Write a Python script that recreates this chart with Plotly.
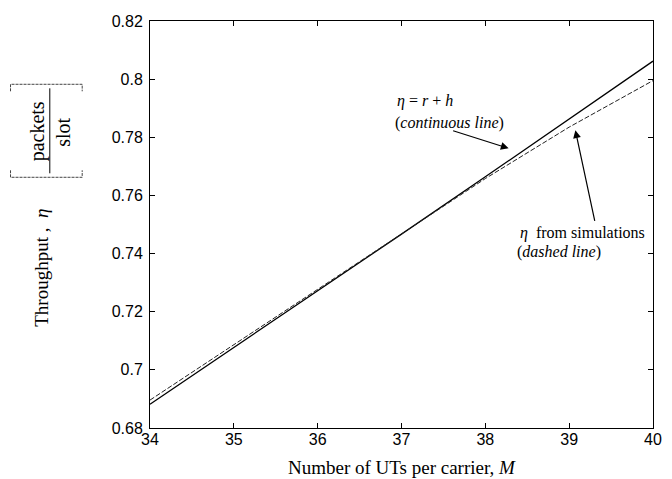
import plotly.graph_objects as go

# ---- data ----
M = [34, 35, 36, 37, 38, 39, 40]
eta_analytic = [0.6882, 0.7076, 0.7271, 0.7467, 0.7664, 0.7862, 0.8062]   # eta = r + h (continuous)
eta_sim = [0.6896, 0.7087, 0.7277, 0.7468, 0.7658, 0.7835, 0.7995]        # simulations (dashed)

x_ticks = [34, 35, 36, 37, 38, 39, 40]
y_ticks = [0.68, 0.70, 0.72, 0.74, 0.76, 0.78, 0.80, 0.82]
y_ticklabels = ["0.68", "0.7", "0.72", "0.74", "0.76", "0.78", "0.8", "0.82"]

SERIF = "Liberation Serif, Times New Roman, serif"
SANS = "Liberation Sans, Arial, sans-serif"

fig = go.Figure()
fig.add_trace(go.Scatter(x=M, y=eta_analytic, mode="lines",
                         line=dict(color="black", width=1.3), showlegend=False))
fig.add_trace(go.Scatter(x=M, y=eta_sim, mode="lines",
                         line=dict(color="#222", width=1, dash="5px,2px"), showlegend=False))

axis_common = dict(showgrid=False, zeroline=False, showline=True, linecolor="black",
                   linewidth=1, mirror="ticks", ticks="inside", ticklen=5,
                   tickcolor="black", tickfont=dict(family=SANS, size=16, color="black"))

fig.update_xaxes(range=[34, 40], tickvals=x_ticks, ticklabelstandoff=-3, **axis_common)
fig.update_yaxes(range=[0.68, 0.82], tickvals=y_ticks, ticktext=y_ticklabels,
                 ticklabelstandoff=3, **axis_common)

annotations = [
    # x-axis title
    dict(text="Number of UTs per carrier, <i>M</i>", xref="paper", yref="paper",
         x=0.5, y=-0.097, xanchor="center", yanchor="middle", showarrow=False,
         font=dict(family=SERIF, size=19, color="black")),
    # y-axis title
    dict(text="Throughput ,  <i>η</i>", xref="paper", yref="paper",
         x=-0.2148, y=0.3936, xanchor="center", yanchor="middle", textangle=-90,
         showarrow=False, font=dict(family=SERIF, size=19, color="black")),
    dict(text="packets", xref="paper", yref="paper", x=-0.2246, y=0.729,
         xanchor="center", yanchor="middle", textangle=-90, showarrow=False,
         font=dict(family=SERIF, size=20, color="black")),
    dict(text="slot", xref="paper", yref="paper", x=-0.1719, y=0.7265,
         xanchor="center", yanchor="middle", textangle=-90, showarrow=False,
         font=dict(family=SERIF, size=20, color="black")),
    # curve labels
    dict(text="<i>η</i> = <i>r</i> + <i>h</i>", xref="paper", yref="paper",
         x=0.488, y=0.803, xanchor="left", yanchor="middle", showarrow=False,
         font=dict(family=SERIF, size=16, color="black")),
    dict(text="(<i>continuous line</i>)", xref="paper", yref="paper",
         x=0.484, y=0.749, xanchor="left", yanchor="middle", showarrow=False,
         font=dict(family=SERIF, size=16, color="black")),
    dict(text="<i>η</i>  from simulations", xref="paper", yref="paper",
         x=0.732, y=0.478, xanchor="left", yanchor="middle", showarrow=False,
         font=dict(family=SERIF, size=16, color="black")),
    dict(text="(<i>dashed line</i>)", xref="paper", yref="paper",
         x=0.725, y=0.432, xanchor="left", yanchor="middle", showarrow=False,
         font=dict(family=SERIF, size=16, color="black")),
    # arrows
    dict(text="", x=38.278, y=0.7762, ax=37.598, ay=0.7824, xref="x", yref="y",
         axref="x", ayref="y", showarrow=True, arrowhead=2, arrowsize=1.3,
         arrowwidth=1.2, arrowcolor="black"),
    dict(text="", x=39.074, y=0.7824, ax=39.309, ay=0.7507, xref="x", yref="y",
         axref="x", ayref="y", showarrow=True, arrowhead=2, arrowsize=1.3,
         arrowwidth=1.2, arrowcolor="black"),
]

bx0, bx1 = -0.2773, -0.1348
yb, ybt = 0.6160, 0.6332
yt, ytt = 0.8445, 0.8273
shapes = [
    dict(type="line", xref="paper", yref="paper", x0=-0.1992, x1=-0.1992,
         y0=0.6258, y1=0.8346, line=dict(color="black", width=1)),
    dict(type="path", xref="paper", yref="paper",
         path=f"M {bx0},{ybt} L {bx0},{yb} L {bx1},{yb} L {bx1},{ybt}",
         line=dict(color="#444", width=1, dash="3px,1px")),
    dict(type="path", xref="paper", yref="paper",
         path=f"M {bx0},{ytt} L {bx0},{yt} L {bx1},{yt} L {bx1},{ytt}",
         line=dict(color="#444", width=1, dash="3px,1px")),
]

fig.update_layout(
    width=672, height=479,
    margin=dict(l=150, r=10, t=21, b=51),
    paper_bgcolor="white", plot_bgcolor="white",
    annotations=annotations, shapes=shapes,
)

fig.write_html("out.html", config={"displayModeBar": False},
               post_script="document.body.style.margin='0px';document.body.style.overflow='hidden';")
